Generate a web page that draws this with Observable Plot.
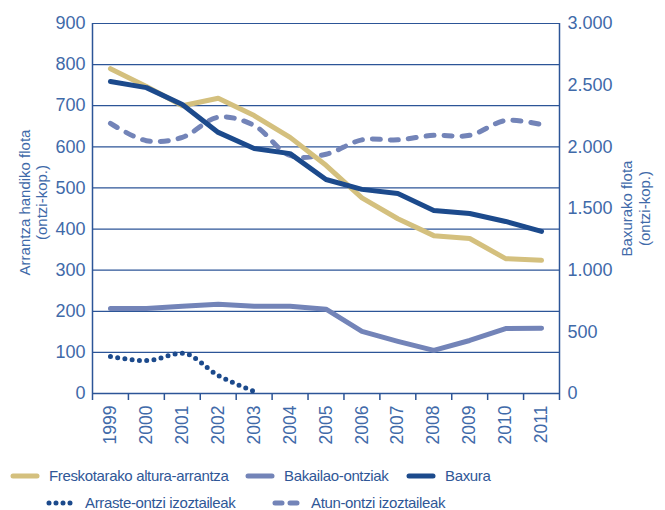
<!DOCTYPE html>
<html>
<head>
<meta charset="utf-8">
<script src="https://cdn.jsdelivr.net/npm/d3@7"></script>
<script src="https://cdn.jsdelivr.net/npm/@observablehq/plot@0.6"></script>
<style>
  body { margin: 0; background: #fff; font-family: "Liberation Sans", Arial, sans-serif; }
  #chart { width: 665px; }
  .legend { position: relative; height: 60px; font-size: 15px; letter-spacing: -0.35px; color: #2f5797; }
  .item { position: absolute; display: flex; align-items: center; white-space: nowrap; }
  .item svg { margin-right: 9px; }
</style>
</head>
<body>
<div id="chart"></div>
<script>
const years = [1999,2000,2001,2002,2003,2004,2005,2006,2007,2008,2009,2010,2011];
const freskotarako = [790,747,700,718,676,623,555,476,425,384,377,328,324];
const bakailao     = [207,207,212,217,212,212,205,151,127,105,129,158,159];
const baxura       = [2530,2480,2343,2117,1987,1945,1735,1655,1621,1484,1459,1395,1314]; // right axis
const arraste      = [90,80,98,44,5];
const atun         = [657,615,623,672,652,579,582,617,617,628,628,664,654];
const leftTicks  = [0,100,200,300,400,500,600,700,800,900];
const rightTicks = [0,500,1000,1500,2000,2500,3000];

const C = {tan:"#d4c07e", lav:"#7384b8", navy:"#1c4a8c", text:"#3f6aa9", grid:"#2c5597"};
const rightToLeft = v => v * 900 / 3000;

const rows = (vals, conv = d => d) => vals.map((v, i) => ({x: years[i], y: conv(v)}));
const bounds = d3.range(years.length + 1).map(i => years[0] - 0.5 + i);
const fmtDot = d => d3.format(",")(d).replace(/,/g, ".");

const plot = Plot.plot({
  width: 665,
  height: 450,
  marginLeft: 92,
  marginRight: 106,
  marginTop: 23,
  marginBottom: 57,
  style: {fontFamily: "Liberation Sans, Arial, sans-serif", background: "#fff"},
  x: {type: "linear", domain: [years[0] - 0.5, years[years.length - 1] + 0.5]},
  y: {domain: [0, 900]},
  marks: [
    Plot.gridY(leftTicks.slice(1), {stroke: C.grid, strokeOpacity: 1, strokeWidth: 1.2}),
    Plot.ruleY([0], {stroke: C.grid, strokeWidth: 1.5}),
    Plot.ruleX([bounds[0], bounds[bounds.length - 1]], {stroke: C.grid, strokeWidth: 1.5, y1: 0, y2: 900}),
    Plot.axisY({ticks: leftTicks, tickSize: 0, tickPadding: 7, fontSize: 18, fill: C.text, label: null}),
    Plot.axisY({anchor: "right", ticks: rightTicks.map(rightToLeft), tickSize: 0, tickPadding: 8, fontSize: 18, fill: C.text, label: null,
      tickFormat: d => fmtDot(Math.round(d * 3000 / 900))}),
    Plot.axisX({ticks: bounds, tickFormat: () => "", tickSize: 7, stroke: C.grid, strokeWidth: 1.5, label: null}),
    Plot.axisX({ticks: years, tickSize: 0, tickPadding: 12, tickRotate: -90, fontSize: 17.5, fill: C.text, label: null, tickFormat: d => String(d)}),
    Plot.text(["Arrantza handiko flota\n(ontzi-kop.)"], {frameAnchor: "left", dx: -59.5, dy: -6, rotate: -90, fontSize: 15, lineHeight: 1.17, fill: C.text, textAnchor: "middle", lineAnchor: "middle"}),
    Plot.text(["Baxurako flota\n(ontzi-kop.)"], {frameAnchor: "right", dx: 76, rotate: -90, fontSize: 15, lineHeight: 1.17, fill: C.text, textAnchor: "middle", lineAnchor: "middle"}),
    Plot.line(rows(bakailao), {x: "x", y: "y", stroke: C.lav, strokeWidth: 5, strokeLinejoin: "round", strokeLinecap: "round"}),
    Plot.line(rows(atun), {x: "x", y: "y", stroke: C.lav, strokeWidth: 5, strokeDasharray: "8 10", strokeLinecap: "round", strokeLinejoin: "round", curve: "catmull-rom"}),
    Plot.line(rows(freskotarako), {x: "x", y: "y", stroke: C.tan, strokeWidth: 5, strokeLinejoin: "round", strokeLinecap: "round"}),
    Plot.line(rows(arraste), {x: "x", y: "y", stroke: C.navy, strokeWidth: 5, strokeDasharray: "0 7.3", strokeLinecap: "round", curve: "monotone-x"}),
    Plot.line(rows(baxura, rightToLeft), {x: "x", y: "y", stroke: C.navy, strokeWidth: 5, strokeLinejoin: "round", strokeLinecap: "round"})
  ]
});
document.getElementById("chart").appendChild(plot);

const legendItems = [
  {label: "Freskotarako altura-arrantza", color: C.tan, dash: null, left: 10, top: 17},
  {label: "Bakailao-ontziak", color: C.lav, dash: null, left: 245, top: 17},
  {label: "Baxura", color: C.navy, dash: null, left: 406, top: 17},
  {label: "Arraste-ontzi izoztaileak", color: C.navy, dash: "0 7", left: 46, top: 44},
  {label: "Atun-ontzi izoztaileak", color: C.lav, dash: "7 8", left: 272, top: 44}
];
const legend = document.createElement("div");
legend.className = "legend";
legend.style.position = "absolute";
legend.style.left = "0px";
legend.style.top = "450px";
legend.style.width = "665px";
for (const it of legendItems) {
  const d = document.createElement("div");
  d.className = "item";
  d.style.left = it.left + "px";
  d.style.top = it.top + "px";
  const dash = it.dash ? `stroke-dasharray="${it.dash}"` : "";
  d.innerHTML = `<svg width="30" height="10"><line x1="3" y1="5" x2="27" y2="5" stroke="${it.color}" stroke-width="5" stroke-linecap="round" ${dash}/></svg><span>${it.label}</span>`;
  legend.appendChild(d);
}
document.body.appendChild(legend);
</script>
</body>
</html>
